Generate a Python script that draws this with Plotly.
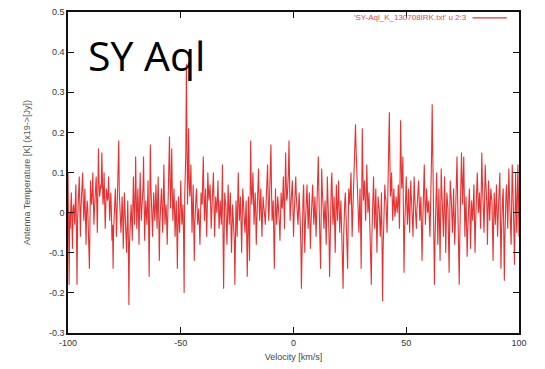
import numpy as np
import plotly.graph_objects as go

# Velocity grid (km/s), 0.25 km/s channels
velocity = np.linspace(-100, 100, 801)

# Antenna temperature [K], on the whole channels
# (-100, -99.5, ..., 100) ...
temperature_main = [
    0.10, -0.18, -0.04, 0.05, -0.09, 0.02, -0.03, 0.07, -0.18, 0.01,
    0.09, -0.06, 0.04, 0.10, -0.02, 0.06, -0.08, 0.03, -0.04, -0.14,
    0.08, 0.02, 0.10, -0.03, 0.05, 0.09, -0.05, 0.16, 0.04, 0.07,
    0.15, 0.02, 0.10, -0.04, 0.06, 0.03, 0.09, -0.02, 0.05, -0.07,
    -0.14, 0.01, 0.06, -0.06, 0.08, 0.18, 0.00, -0.05, 0.04, -0.09,
    0.05, -0.02, -0.10, 0.03, -0.23, -0.05, 0.02, -0.07, 0.09, -0.03,
    0.14, -0.04, 0.06, -0.08, 0.10, -0.02, 0.04, 0.14, -0.07, 0.03,
    -0.03, 0.08, -0.16, 0.17, 0.02, -0.06, 0.05, -0.02, 0.07, -0.04,
    0.09, -0.12, 0.03, 0.06, -0.05, 0.12, -0.03, 0.02, -0.08, 0.05,
    0.19, 0.01, 0.16, -0.02, 0.06, -0.06, 0.03, -0.14, 0.04, -0.05,
    0.08, -0.03, 0.02, -0.20, 0.10, 0.37, 0.02, 0.21, 0.04, 0.12,
    -0.05, 0.07, -0.12, 0.03, 0.06, -0.03, 0.01, -0.08, 0.05, 0.02,
    0.14, -0.02, 0.06, -0.06, 0.10, 0.03, 0.07, -0.04, 0.05, 0.10,
    -0.06, 0.04, 0.00, 0.08, -0.04, 0.03, -0.03, 0.12, -0.19, 0.05,
    0.02, -0.08, 0.07, -0.03, 0.05, -0.10, 0.02, -0.04, -0.18, 0.03,
    -0.06, 0.10, -0.02, 0.04, -0.10, 0.06, 0.01, -0.05, 0.03, -0.16,
    0.04, -0.12, 0.18, 0.02, 0.10, -0.03, 0.05, -0.08, 0.02, 0.11,
    -0.02, 0.06, -0.06, 0.04, 0.01, -0.03, 0.08, 0.12, -0.02, 0.05,
    0.17, -0.02, 0.03, -0.14, 0.06, -0.03, 0.04, 0.00, -0.07, 0.05,
    0.01, 0.09, -0.04, 0.15, 0.03, 0.07, 0.18, -0.02, 0.05, 0.08,
    -0.06, 0.04, 0.09, 0.01, -0.03, 0.05, -0.02, -0.19, 0.03, 0.07,
    -0.10, 0.02, 0.07, -0.04, 0.05, -0.09, 0.01, 0.07, -0.03, 0.04,
    -0.06, 0.03, 0.14, -0.02, -0.14, 0.11, 0.04, -0.04, 0.03, -0.08,
    0.09, 0.01, -0.16, 0.06, 0.10, -0.03, 0.04, -0.10, 0.07, -0.02,
    0.08, -0.05, 0.03, -0.07, -0.19, 0.02, 0.05, -0.04, -0.14, 0.06,
    0.02, 0.10, -0.06, 0.04, 0.08, 0.22, 0.12, 0.03, -0.05, 0.06,
    -0.14, 0.21, 0.03, 0.08, -0.02, 0.12, 0.00, 0.05, -0.07, -0.18,
    0.02, 0.09, -0.04, 0.06, -0.10, 0.04, 0.01, -0.06, 0.05, -0.22,
    -0.02, 0.07, 0.03, -0.05, 0.08, 0.25, 0.04, 0.10, -0.02, 0.06,
    -0.01, 0.04, 0.00, 0.07, -0.04, 0.23, 0.06, 0.14, -0.15, 0.03,
    0.09, -0.03, 0.06, -0.05, 0.08, 0.02, -0.06, 0.09, 0.00, -0.04,
    0.05, 0.08, -0.02, 0.04, -0.12, 0.03, 0.12, -0.03, 0.06, 0.00,
    0.03, -0.06, 0.05, 0.27, 0.04, -0.18, 0.02, 0.10, -0.08, 0.06,
    -0.12, 0.11, 0.02, -0.06, 0.09, -0.10, 0.05, 0.01, -0.15, 0.08,
    0.03, -0.05, 0.06, -0.08, 0.02, 0.14, -0.03, -0.18, 0.06, 0.15,
    0.02, 0.14, -0.06, 0.04, -0.11, 0.01, 0.06, -0.09, 0.03, -0.02,
    0.07, -0.10, 0.04, 0.10, 0.00, 0.05, -0.04, 0.15, 0.02, -0.05,
    0.12, 0.04, -0.08, 0.08, -0.02, 0.06, 0.03, -0.12, 0.05, -0.03,
    0.07, -0.06, 0.04, 0.10, -0.14, 0.02, 0.06, -0.17, 0.03, 0.07,
    -0.04, 0.11, 0.00, -0.08, 0.12, 0.03, -0.13, 0.10, -0.05, 0.12,
    -0.06,
]

# ... and on the in-between channels (-99.75, -99.25, ..., 99.75)
temperature_between = [
    -0.02, 0.00, 0.02, -0.03, 0.01, 0.00, 0.03, -0.05, -0.02, 0.04,
    0.02, 0.01, 0.06, 0.03, 0.02, -0.01, 0.00, 0.01, -0.06, -0.02,
    0.04, 0.05, 0.03, 0.01, 0.06, 0.02, 0.05, 0.08, 0.05, 0.06,
    0.07, 0.04, 0.03, 0.01, 0.05, 0.04, 0.03, 0.02, 0.00, -0.03,
    -0.04, 0.02, 0.01, 0.00, 0.06, 0.05, -0.01, -0.01, 0.00, -0.02,
    0.01, -0.05, -0.03, -0.06, -0.08, -0.03, -0.02, 0.01, 0.02, 0.03,
    0.04, 0.01, 0.00, 0.02, 0.03, 0.01, 0.06, 0.03, -0.01, 0.00,
    0.02, -0.04, 0.00, 0.07, -0.01, 0.00, 0.01, 0.02, 0.01, 0.03,
    -0.01, -0.03, 0.04, 0.01, 0.02, 0.04, 0.00, -0.02, -0.01, 0.06,
    0.08, 0.07, 0.05, 0.02, 0.00, -0.01, -0.04, -0.03, -0.02, 0.01,
    0.02, -0.01, -0.06, 0.04, 0.15, 0.14, 0.09, 0.08, 0.07, 0.03,
    0.01, -0.02, -0.03, 0.04, 0.01, -0.01, -0.03, -0.02, 0.03, 0.06,
    0.05, 0.02, 0.00, 0.01, 0.06, 0.05, 0.02, 0.00, 0.07, 0.02,
    -0.01, 0.02, 0.03, 0.02, -0.01, 0.00, 0.04, -0.05, -0.06, 0.03,
    -0.02, -0.01, 0.02, 0.01, -0.03, -0.04, -0.01, -0.07, -0.05, -0.01,
    0.02, 0.03, 0.01, -0.03, -0.02, 0.03, -0.02, -0.01, -0.06, -0.05,
    -0.04, 0.03, 0.07, 0.05, 0.04, 0.01, 0.00, -0.02, 0.06, 0.03,
    0.02, 0.00, -0.01, 0.02, -0.01, 0.02, 0.09, 0.04, 0.01, 0.09,
    0.06, 0.00, -0.04, -0.03, 0.01, 0.00, 0.02, -0.03, -0.01, 0.02,
    0.04, 0.02, 0.05, 0.08, 0.04, 0.10, 0.06, 0.01, 0.06, 0.01,
    -0.01, 0.06, 0.04, -0.01, 0.01, 0.01, -0.07, -0.06, 0.04, -0.01,
    -0.03, 0.04, 0.01, 0.00, -0.02, -0.03, 0.03, 0.02, 0.00, -0.01,
    -0.01, 0.07, 0.05, -0.07, -0.02, 0.06, 0.00, -0.01, -0.02, 0.00,
    0.04, -0.06, -0.04, 0.07, 0.03, 0.00, -0.03, -0.01, 0.02, 0.03,
    0.01, -0.01, -0.02, -0.08, -0.06, 0.03, 0.00, -0.07, -0.03, 0.04,
    0.05, 0.02, -0.01, 0.06, 0.14, 0.16, 0.07, -0.01, 0.00, -0.03,
    0.02, 0.11, 0.05, 0.03, 0.04, 0.06, 0.02, -0.01, -0.10, -0.06,
    0.05, 0.02, 0.01, -0.02, -0.03, 0.02, -0.03, -0.01, -0.07, -0.09,
    0.03, 0.04, -0.01, 0.02, 0.14, 0.13, 0.06, 0.03, 0.02, 0.02,
    0.01, 0.02, 0.03, 0.01, 0.08, 0.13, 0.09, 0.00, -0.05, 0.05,
    0.02, 0.01, 0.00, 0.02, 0.04, -0.02, 0.02, 0.04, -0.02, 0.01,
    0.06, 0.03, 0.01, -0.04, -0.04, 0.07, 0.04, 0.01, 0.03, 0.01,
    -0.02, 0.00, 0.15, 0.14, -0.06, -0.07, 0.06, 0.01, -0.01, -0.03,
    -0.01, 0.06, -0.02, 0.02, 0.00, -0.02, 0.03, -0.06, -0.03, 0.05,
    -0.01, 0.00, -0.01, -0.03, 0.07, 0.05, -0.09, -0.06, 0.10, 0.08,
    0.08, 0.04, -0.01, -0.03, -0.05, 0.03, 0.01, -0.03, 0.00, 0.02,
    -0.01, -0.03, 0.07, 0.05, 0.02, 0.00, 0.05, 0.08, -0.01, 0.03,
    0.08, 0.02, 0.00, 0.03, 0.02, 0.04, -0.04, -0.03, 0.01, 0.02,
    0.00, -0.01, 0.07, -0.02, -0.05, 0.04, -0.05, -0.06, 0.05, 0.02,
    0.03, 0.05, -0.04, 0.02, 0.07, -0.05, -0.03, 0.02, 0.03, 0.04,
]

# Interleave the two read-off series into one spectrum on the 0.25 km/s grid
temperature = []
for k, main_val in enumerate(temperature_main):
    temperature.append(main_val)
    if k < len(temperature_between):
        temperature.append(temperature_between[k])

x_tick_vals = [-100, -50, 0, 50, 100]
x_tick_text = ["-100", "-50", "0", "50", "100"]
y_tick_vals = [-0.3, -0.2, -0.1, 0.0, 0.1, 0.2, 0.3, 0.4, 0.5]
y_tick_text = ["-0.3", "-0.2", "-0.1", "0", "0.1", "0.2", "0.3", "0.4", "0.5"]

series_name = "'SY-Aql_K_130708IRK.txt' u 2:3"
line_color = "#E53333"

fig = go.Figure()
fig.add_trace(go.Scatter(
    x=velocity, y=temperature, mode="lines",
    line=dict(color=line_color, width=1.1),
    name=series_name, showlegend=False,
))

tick_font = dict(family="Liberation Sans", size=9, color="#333333")
axis_common = dict(
    showline=True, linecolor="#111111", linewidth=1.5, mirror="ticks",
    ticks="inside", ticklen=6, tickwidth=1, tickcolor="#111111",
    showgrid=False, zeroline=False, tickfont=tick_font, automargin=False,
)

fig.update_xaxes(
    range=[-100, 100], tickvals=x_tick_vals, ticktext=x_tick_text,
    title=dict(text="Velocity [km/s]", font=dict(family="Liberation Sans", size=9, color="#444444"), standoff=7),
    **axis_common,
)
fig.update_yaxes(
    range=[-0.3, 0.5], tickvals=y_tick_vals, ticktext=y_tick_text,
    title=dict(text="Antenna Temperature [K] (x19->[Jy])", font=dict(family="Liberation Sans", size=9, color="#555555"), standoff=17),
    **axis_common,
)

# gnuplot-style key (text then sample line) at top right
fig.add_annotation(
    xref="paper", yref="paper", x=0.89, y=0.982, xanchor="right", yanchor="middle",
    text=series_name, showarrow=False,
    font=dict(family="Liberation Sans", size=8, color="#E04848"),
)
fig.add_shape(
    type="line", xref="paper", yref="paper", x0=0.897, x1=0.973, y0=0.982, y1=0.982,
    line=dict(color=line_color, width=1.2),
)

# Big slide label
fig.add_annotation(
    xref="paper", yref="paper", x=0.04, y=0.865, xanchor="left", yanchor="middle",
    text="SY Aql", showarrow=False,
    font=dict(family="Open Sans", size=41, color="#000000"),
)

fig.update_layout(
    width=545, height=369,
    margin=dict(l=68, r=26, t=12, b=36),
    paper_bgcolor="white", plot_bgcolor="white",
)

fig.write_html("out.html")
